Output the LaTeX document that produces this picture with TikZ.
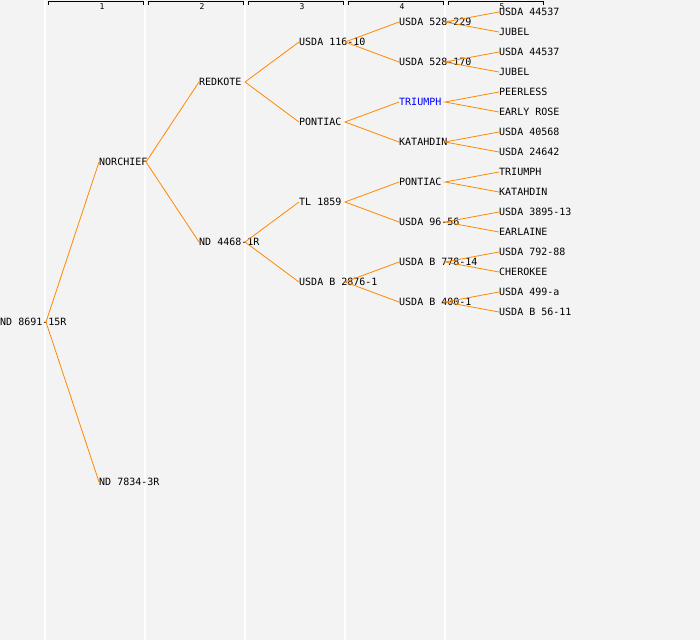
\documentclass[tikz,border=0pt]{standalone}
\usepackage{fontspec}
\setmonofont{DejaVu Sans Mono}
\definecolor{bgcol}{RGB}{243,243,243}
\definecolor{lineorange}{RGB}{255,136,0}
\definecolor{hiblue}{RGB}{0,0,255}
\begin{document}
\begin{tikzpicture}[x=1pt,y=-1pt,
  lbl/.style={anchor=west,inner sep=0pt,font=\ttfamily\fontsize{10}{12}\selectfont,text=black},
  link/.style={draw=lineorange,line width=0.8pt},
  sep/.style={draw=white,line width=1.5pt},
  hdr/.style={draw=black,line width=1pt},
  hnum/.style={font=\ttfamily\fontsize{8}{9}\selectfont,inner sep=0pt}]
\fill[bgcol] (0,0) rectangle (700,640);
\useasboundingbox (0,0) rectangle (700,640);
\foreach \x in {45,145,245,345,445} \draw[sep] (\x,0) -- (\x,640);
\foreach \i/\x in {1/48,2/148,3/248,4/348,5/448} {
  \draw[hdr] (\x,5) -- (\x,1.5) -- ++(95,0) -- ++(0,3.5);
  \node[hnum] (h\i) at (\x+54,6.5) {\i};
}
% generation 0
\node[lbl] (a) at (0,322) {ND 8691-15R};
% generation 1
\node[lbl] (b1) at (99,162) {NORCHIEF};
\node[lbl] (b2) at (99,482) {ND 7834-3R};
% generation 2
\node[lbl] (c1) at (199,82) {REDKOTE};
\node[lbl] (c2) at (199,242) {ND 4468-1R};
% generation 3
\node[lbl] (d1) at (299,42) {USDA 116-10};
\node[lbl] (d2) at (299,122) {PONTIAC};
\node[lbl] (d3) at (299,202) {TL 1859};
\node[lbl] (d4) at (299,282) {USDA B 2876-1};
% generation 4
\node[lbl] (e1) at (399,22) {USDA 528-229};
\node[lbl] (e2) at (399,62) {USDA 528-170};
\node[lbl,text=hiblue] (e3) at (399,102) {TRIUMPH};
\node[lbl] (e4) at (399,142) {KATAHDIN};
\node[lbl] (e5) at (399,182) {PONTIAC};
\node[lbl] (e6) at (399,222) {USDA 96-56};
\node[lbl] (e7) at (399,262) {USDA B 778-14};
\node[lbl] (e8) at (399,302) {USDA B 400-1};
% generation 5
\node[lbl] (f1) at (499,12) {USDA 44537};
\node[lbl] (f2) at (499,32) {JUBEL};
\node[lbl] (f3) at (499,52) {USDA 44537};
\node[lbl] (f4) at (499,72) {JUBEL};
\node[lbl] (f5) at (499,92) {PEERLESS};
\node[lbl] (f6) at (499,112) {EARLY ROSE};
\node[lbl] (f7) at (499,132) {USDA 40568};
\node[lbl] (f8) at (499,152) {USDA 24642};
\node[lbl] (f9) at (499,172) {TRIUMPH};
\node[lbl] (f10) at (499,192) {KATAHDIN};
\node[lbl] (f11) at (499,212) {USDA 3895-13};
\node[lbl] (f12) at (499,232) {EARLAINE};
\node[lbl] (f13) at (499,252) {USDA 792-88};
\node[lbl] (f14) at (499,272) {CHEROKEE};
\node[lbl] (f15) at (499,292) {USDA 499-a};
\node[lbl] (f16) at (499,312) {USDA B 56-11};
% fork points
\coordinate (ka) at (46,322);
\coordinate (kb1) at (146,162);
\coordinate (kc1) at (245,82);
\coordinate (kc2) at (245,242);
\coordinate (kd1) at (345,42);
\coordinate (kd2) at (345,122);
\coordinate (kd3) at (345,202);
\coordinate (kd4) at (345,282);
\coordinate (ke1) at (445,22);
\coordinate (ke2) at (445,62);
\coordinate (ke3) at (445,102);
\coordinate (ke4) at (445,142);
\coordinate (ke5) at (445,182);
\coordinate (ke6) at (445,222);
\coordinate (ke7) at (445,262);
\coordinate (ke8) at (445,302);
% connectors
\draw[link] (b1.west) -- (ka) -- (b2.west);
\draw[link] (c1.west) -- (kb1) -- (c2.west);
\draw[link] (d1.west) -- (kc1) -- (d2.west);
\draw[link] (d3.west) -- (kc2) -- (d4.west);
\draw[link] (e1.west) -- (kd1) -- (e2.west);
\draw[link] (e3.west) -- (kd2) -- (e4.west);
\draw[link] (e5.west) -- (kd3) -- (e6.west);
\draw[link] (e7.west) -- (kd4) -- (e8.west);
\draw[link] (f1.west) -- (ke1) -- (f2.west);
\draw[link] (f3.west) -- (ke2) -- (f4.west);
\draw[link] (f5.west) -- (ke3) -- (f6.west);
\draw[link] (f7.west) -- (ke4) -- (f8.west);
\draw[link] (f9.west) -- (ke5) -- (f10.west);
\draw[link] (f11.west) -- (ke6) -- (f12.west);
\draw[link] (f13.west) -- (ke7) -- (f14.west);
\draw[link] (f15.west) -- (ke8) -- (f16.west);
\end{tikzpicture}
\end{document}
